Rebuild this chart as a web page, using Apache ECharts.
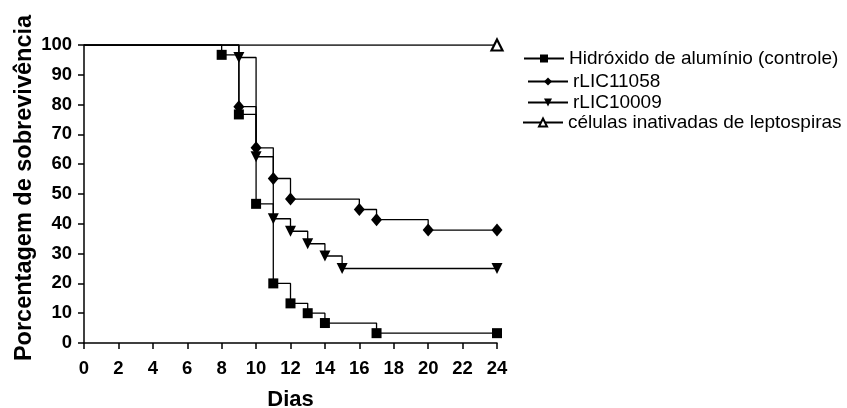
<!DOCTYPE html>
<html>
<head>
<meta charset="utf-8">
<script src="https://cdn.jsdelivr.net/npm/echarts@6/dist/echarts.min.js"></script>
<style>
  html, body { margin: 0; padding: 0; background: #fff; }
  #chart { width: 847px; height: 408px; }
</style>
</head>
<body>
<div id="chart"></div>
<script>
// Kaplan-Meier curves: day of each step and survival (%) after it
var controlDays = [0, 8, 9, 10, 11, 12, 13, 14, 17, 24];
var controlSurv = [100, 96.7, 76.7, 46.7, 20, 13.3, 10, 6.7, 3.3, 3.3];
var lic11058Days = [0, 9, 10, 11, 12, 16, 17, 20, 24];
var lic11058Surv = [100, 79.3, 65.5, 55.2, 48.3, 44.8, 41.4, 37.9, 37.9];
var lic10009Days = [0, 9, 10, 11, 12, 13, 14, 15, 24];
var lic10009Surv = [100, 95.8, 62.5, 41.7, 37.5, 33.3, 29.2, 25, 25];
var inactDays = [0, 24];
var inactSurv = [100, 100];

var seriesNames = [
    'Hidróxido de alumínio (controle)',
    'rLIC11058',
    'rLIC10009',
    'células inativadas de leptospiras'
];

var FONT = '"Liberation Sans", Arial, sans-serif';

function kmSeries(name, xs, ys, opts) {
    var data = xs.map(function (x, i) {
        // no marker at the starting point
        return i === 0 ? { value: [x, ys[i]], symbol: 'none' } : [x, ys[i]];
    });
    return Object.assign({
        name: name,
        type: 'line',
        step: 'end',
        data: data,
        showAllSymbol: true,
        lineStyle: { color: '#000', width: 1.3 },
        itemStyle: { color: '#000' },
        emphasis: { disabled: true }
    }, opts);
}

// one legend per entry so each can sit where the original puts it
function legendFor(name, top, left) {
    return {
        data: [name],
        orient: 'vertical',
        left: left,
        top: top,
        padding: 0,
        itemWidth: 40,
        itemHeight: 10,
        textStyle: { fontFamily: FONT, fontSize: 19, color: '#000', lineHeight: 19 },
        selectedMode: false
    };
}

var chart = echarts.init(document.getElementById('chart'));
chart.setOption({
    animation: false,
    backgroundColor: '#fff',
    grid: { left: 84, right: 350, top: 45, bottom: 65, outerBoundsMode: 'none', containLabel: false },
    legend: [
        legendFor(seriesNames[0], 49, 523),
        legendFor(seriesNames[1], 72, 527),
        legendFor(seriesNames[2], 93, 527),
        legendFor(seriesNames[3], 113, 522)
    ],
    xAxis: {
        type: 'value',
        min: 0,
        max: 24,
        interval: 2,
        name: 'Dias',
        nameLocation: 'middle',
        nameGap: 46,
        nameTextStyle: { fontFamily: FONT, fontSize: 22, fontWeight: 'bold', color: '#000' },
        axisLine: { lineStyle: { color: '#000', width: 1.5 } },
        axisTick: { length: 6, lineStyle: { color: '#000', width: 1.5 } },
        axisLabel: { margin: 16, fontFamily: FONT, fontSize: 18.5, fontWeight: 'bold', color: '#000' },
        splitLine: { show: false }
    },
    yAxis: {
        type: 'value',
        min: 0,
        max: 100,
        interval: 10,
        name: 'Porcentagem de sobrevivência',
        nameLocation: 'middle',
        nameGap: 47,
        nameTextStyle: { fontFamily: FONT, fontSize: 23.5, fontWeight: 'bold', color: '#000', padding: [0, 0, 0, 12] },
        axisLine: { show: true, lineStyle: { color: '#000', width: 1.5 } },
        axisTick: { show: true, length: 6, lineStyle: { color: '#000', width: 1.5 } },
        axisLabel: { margin: 12, fontFamily: FONT, fontSize: 18.5, fontWeight: 'bold', color: '#000' },
        splitLine: { show: false }
    },
    series: [
        kmSeries(seriesNames[3], inactDays, inactSurv, {
            symbol: 'triangle', symbolSize: 11,
            itemStyle: { color: '#fff', borderColor: '#000', borderWidth: 2.2 }
        }),
        kmSeries(seriesNames[0], controlDays, controlSurv, { symbol: 'rect', symbolSize: 10 }),
        kmSeries(seriesNames[1], lic11058Days, lic11058Surv, { symbol: 'diamond', symbolSize: [11, 13] }),
        kmSeries(seriesNames[2], lic10009Days, lic10009Surv, { symbol: 'triangle', symbolSize: 11, symbolRotate: 180 })
    ]
});
</script>
</body>
</html>
